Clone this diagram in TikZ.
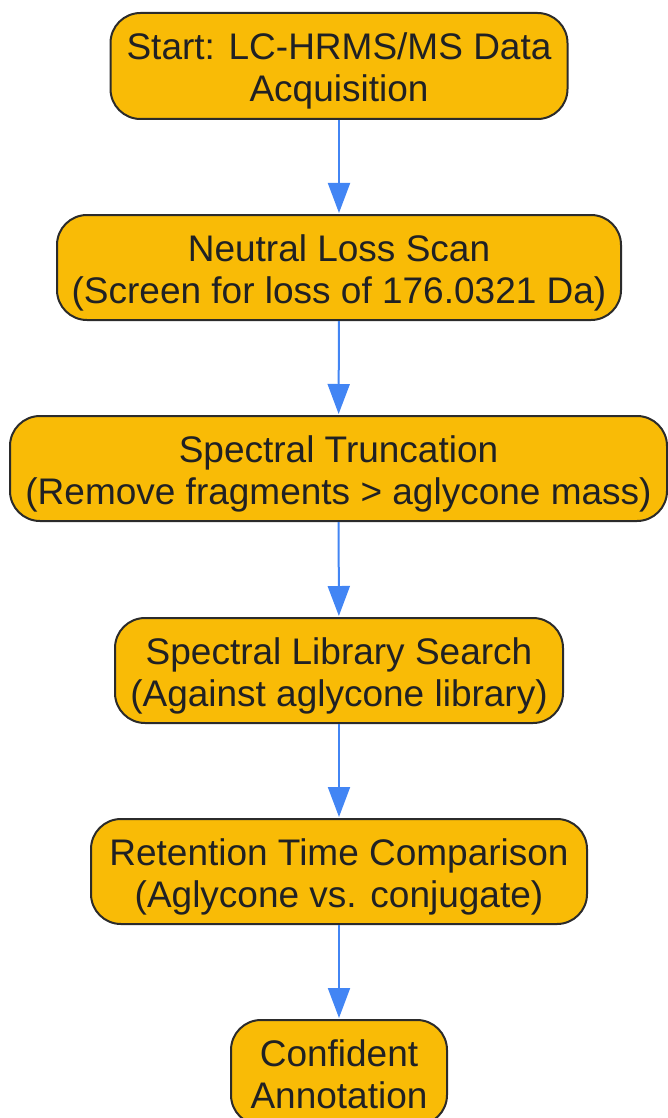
\documentclass[tikz,border=0pt]{standalone}
\usepackage{fontspec}
\setmainfont{Liberation Sans}
\usetikzlibrary{arrows.meta}
\definecolor{boxfill}{HTML}{F9BB06}
\definecolor{boxline}{HTML}{2B2B2B}
\definecolor{arrowc}{HTML}{4285F4}
\definecolor{txt}{HTML}{202124}
\begin{document}
\begin{tikzpicture}[x=1pt,y=1pt,
  stepbox/.style={draw=boxline, line width=2pt, fill=boxfill, rounded corners=30pt,
    align=center, text=txt, font=\fontsize{37}{42}\selectfont, inner sep=0pt,
    text height=81pt, text depth=9pt},
  flow/.style={draw=arrowc, line width=2pt, -{Triangle[length=30pt,width=22pt]}, shorten >=1pt}]
\useasboundingbox (0,0) rectangle (667,-1118);
\node[stepbox, minimum width=457pt, minimum height=106pt] (a) at (339,-66) {Start: LC-HRMS/MS Data\\Acquisition};
\node[stepbox, minimum width=564pt, minimum height=105pt] (b) at (339,-267.5) {Neutral Loss Scan\\(Screen for loss of 176.0321 Da)};
\node[stepbox, minimum width=657pt, minimum height=105pt] (c) at (338.5,-468.5) {Spectral Truncation\\(Remove fragments > aglycone mass)};
\node[stepbox, minimum width=448pt, minimum height=105pt] (d) at (339,-670.5) {Spectral Library Search\\(Against aglycone library)};
\node[stepbox, minimum width=496pt, minimum height=105pt] (e) at (339,-871.5) {Retention Time Comparison\\(Aglycone vs. conjugate)};
\node[stepbox, minimum width=216pt, minimum height=105pt] (f) at (339,-1072.5) {Confident\\Annotation};
\draw[flow] (a) -- (b);
\draw[flow] (b) -- (c);
\draw[flow] (c) -- (d);
\draw[flow] (d) -- (e);
\draw[flow] (e) -- (f);
\end{tikzpicture}
\end{document}
